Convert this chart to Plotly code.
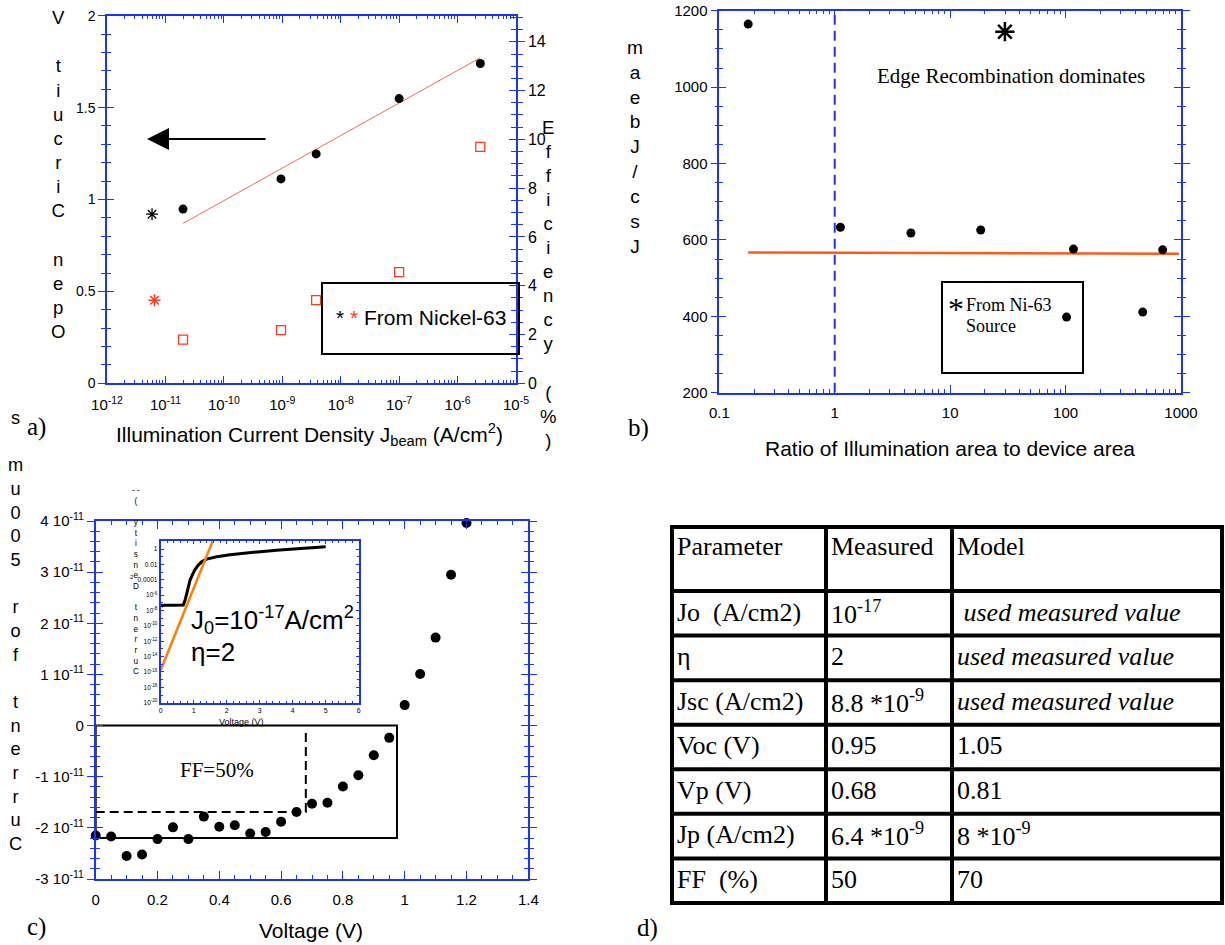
import plotly.graph_objects as go

W, H = 1225, 945
SANS = "Liberation Sans, Arial, Helvetica, sans-serif"
SERIF = "Liberation Serif, Times New Roman, serif"
BLUE = "#1a33ff"
RED = "#ff3a1a"
ORANGE = "#ff5a14"

# ---------------- Panel a data ----------------
a_jbeam = [2.0e-11, 9.5e-10, 3.8e-9, 1.0e-7, 2.45e-6]
a_voc = [0.948, 1.112, 1.248, 1.549, 1.740]
a_eff = [1.79, 2.18, 3.41, 4.56, 9.69]
a_fit_x = [2.0e-11, 2.45e-6]
a_fit_y = [0.870, 1.771]
a_ni_black_x = [5.9e-12]
a_ni_black_voc = [0.92]
a_ni_red_x = [6.5e-12]
a_ni_red_voc = [0.452]
a_xtickvals = [1e-12, 1e-11, 1e-10, 1e-9, 1e-8, 1e-7, 1e-6, 1e-5]
a_xticktext = ["10<sup>-12</sup>", "10<sup>-11</sup>", "10<sup>-10</sup>", "10<sup>-9</sup>",
               "10<sup>-8</sup>", "10<sup>-7</sup>", "10<sup>-6</sup>", "10<sup>-5</sup>"]
a_left_ticks = [0, 0.5, 1, 1.5, 2]
a_left_text = ["0", "0.5", "1", "1.5", "2"]
a_right_ticks = [0, 2, 4, 6, 8, 10, 12, 14]

# ---------------- Panel b data ----------------
b_ratio = [0.178, 1.12, 4.57, 18.4, 117, 102, 466, 694]
b_jratio = [1165, 633, 618, 626, 576, 398, 411, 574]
b_fit_x = [0.178, 960]
b_fit_y = [567, 564]
b_ni_x = [29.8]
b_ni_y = [1145]
b_divider = 1
b_xtickvals = [0.1, 1, 10, 100, 1000]
b_xticktext = ["0.1", "1", "10", "100", "1000"]

# ---------------- Panel c data ----------------
c_volt = [0.0, 0.05, 0.1, 0.15, 0.2, 0.25, 0.3, 0.35, 0.4, 0.45, 0.5, 0.55, 0.6, 0.65,
          0.7, 0.75, 0.8, 0.85, 0.9, 0.95, 1.0, 1.05, 1.1, 1.15, 1.2]
c_curr_e11 = [-2.15, -2.17, -2.55, -2.52, -2.22, -1.99, -2.22, -1.78, -1.98, -1.95, -2.11,
              -2.08, -1.88, -1.69, -1.53, -1.51, -1.19, -0.97, -0.58, -0.24, 0.40, 1.01,
              1.72, 2.95, 3.96]
c_box_voc = 0.975
c_box_isc_e11 = -2.2
c_vp = 0.68
c_ip_e11 = -1.69
c_vp_top_e11 = -0.08
c_yticks_e11 = [4, 3, 2, 1, 0, -1, -2, -3]
c_xticks = [0, 0.2, 0.4, 0.6, 0.8, 1.0, 1.2, 1.4]
c_xticktext = ["0", "0.2", "0.4", "0.6", "0.8", "1", "1.2", "1.4"]

# inset (log current density vs voltage)
ins_v = [0.0, 0.05, 0.1, 0.2, 0.3, 0.4, 0.5, 0.6, 0.685, 0.74, 0.81, 0.89, 0.97, 1.04,
         1.14, 1.24, 1.39, 1.70, 2.1, 2.6, 3.1, 3.6, 4.12, 5.0]
ins_j = [5.6e-8, 4.0e-8, 5.0e-8, 4.5e-8, 5.0e-8, 5.0e-8, 5.0e-8, 5.2e-8, 5.1e-8, 2.3e-7,
         4.6e-6, 9.1e-5, 5.5e-4, 2.2e-3, 8.3e-3, 0.022, 0.050, 0.10, 0.18, 0.33, 0.50,
         0.74, 1.1, 2.0]
ins_fit_v = [0.0, 1.62]
ins_fit_j = [1.7e-16, 33]
ins_ytickvals = [1, 1e-2, 1e-4, 1e-6, 1e-8, 1e-10, 1e-12, 1e-14, 1e-16, 1e-18, 1e-20]
ins_yticktext = ["1", "0.01", "0.0001", "10<sup>-6</sup>", "10<sup>-8</sup>", "10<sup>-10</sup>",
                 "10<sup>-12</sup>", "10<sup>-14</sup>", "10<sup>-16</sup>", "10<sup>-18</sup>",
                 "10<sup>-20</sup>"]

# ---------------- Table d ----------------
tbl_header = ["Parameter", "Measured", "Model"]
tbl_param = ["Jo\u00a0 (A/cm2)", "\u03b7", "Jsc (A/cm2)", "Voc (V)", "Vp (V)", "Jp (A/cm2)", "FF\u00a0 (%)"]
tbl_measured = ["10<sup>-17</sup>", "2", "8.8 *10<sup>-9</sup>", "0.95", "0.68",
                "6.4 *10<sup>-9</sup>", "50"]
tbl_model = ["\u00a0<i>used measured value</i>", "<i>used measured value</i>",
             "<i>used measured value</i>", "1.05", "0.81", "8 *10<sup>-9</sup>", "70"]


def px(x):
    return x / W


def py(y):
    return 1 - y / H


def base(**kw):
    d = dict(showgrid=False, zeroline=False, showline=True, linecolor=BLUE, linewidth=1.5,
             tickcolor=BLUE, tickwidth=1.3, ticklen=7, automargin=False,
             tickfont=dict(family=SANS, size=15, color="black"))
    d.update(kw)
    return d


def minor(**kw):
    d = dict(tickcolor=BLUE, tickwidth=1, ticklen=4)
    d.update(kw)
    return d


a_xminor = [k * 10.0 ** e for e in range(-12, -5) for k in range(2, 10)]
b_xminor = [k * 10.0 ** e for e in range(-1, 3) for k in range(2, 10)]

fig = go.Figure()

# ---- panel a traces ----
fig.add_trace(go.Scatter(x=a_fit_x, y=a_fit_y, mode="lines", line=dict(color="#f26a55", width=1),
                         xaxis="x", yaxis="y"))
fig.add_trace(go.Scatter(x=a_jbeam, y=a_voc, mode="markers",
                         marker=dict(color="black", size=9), xaxis="x", yaxis="y"))
fig.add_trace(go.Scatter(x=a_ni_black_x, y=a_ni_black_voc, mode="markers",
                         marker=dict(symbol="asterisk-open", size=10, color="black",
                                     line=dict(color="black", width=1.3)),
                         xaxis="x", yaxis="y"))
fig.add_trace(go.Scatter(x=a_ni_red_x, y=a_ni_red_voc, mode="markers",
                         marker=dict(symbol="asterisk-open", size=10, color=RED,
                                     line=dict(color=RED, width=1.5)),
                         xaxis="x", yaxis="y"))
fig.add_trace(go.Scatter(x=a_jbeam, y=a_eff, mode="markers",
                         marker=dict(symbol="square-open", size=9, color=RED, line=dict(color=RED, width=1.3)),
                         xaxis="x", yaxis="y3"))
for ya in ["y2", "y4"]:
    fig.add_trace(go.Scatter(x=[None], y=[None], xaxis="x", yaxis=ya, hoverinfo="skip"))

# ---- panel b traces ----
fig.add_trace(go.Scatter(x=[b_divider, b_divider], y=[200, 1200], mode="lines",
                         line=dict(color=BLUE, width=2, dash="10px,6px"), xaxis="x2", yaxis="y5"))
fig.add_trace(go.Scatter(x=b_fit_x, y=b_fit_y, mode="lines", line=dict(color=ORANGE, width=2.5),
                         xaxis="x2", yaxis="y5"))
fig.add_trace(go.Scatter(x=b_ratio, y=b_jratio, mode="markers", marker=dict(color="black", size=9),
                         xaxis="x2", yaxis="y5"))
fig.add_trace(go.Scatter(x=b_ni_x, y=b_ni_y, mode="markers",
                         marker=dict(symbol="asterisk-open", size=16, color="black",
                                     line=dict(color="black", width=2.5)),
                         xaxis="x2", yaxis="y5"))
fig.add_trace(go.Scatter(x=[None], y=[None], xaxis="x2", yaxis="y6", hoverinfo="skip"))

# ---- panel c traces ----
E = 1e-11
fig.add_trace(go.Scatter(x=[0, c_box_voc, c_box_voc, 0, 0],
                         y=[0, 0, c_box_isc_e11 * E, c_box_isc_e11 * E, 0],
                         mode="lines", line=dict(color="black", width=2), xaxis="x3", yaxis="y7"))
fig.add_trace(go.Scatter(x=[0, c_vp, c_vp], y=[c_ip_e11 * E, c_ip_e11 * E, c_vp_top_e11 * E],
                         mode="lines", line=dict(color="black", width=2, dash="9px,5px"),
                         xaxis="x3", yaxis="y7"))
fig.add_trace(go.Scatter(x=c_volt, y=[v * E for v in c_curr_e11], mode="markers", cliponaxis=False,
                         marker=dict(color="black", size=10), xaxis="x3", yaxis="y7"))
fig.add_trace(go.Scatter(x=[None], y=[None], xaxis="x3", yaxis="y8", hoverinfo="skip"))

# ---- inset ----
fig.add_trace(go.Scatter(x=ins_v, y=ins_j, mode="lines", line=dict(color="black", width=3),
                         xaxis="x4", yaxis="y9"))
fig.add_trace(go.Scatter(x=ins_fit_v, y=ins_fit_j, mode="lines", line=dict(color="#ff8000", width=2.5),
                         xaxis="x4", yaxis="y9"))

# ---------------- axes ----------------
a_dom_x = [px(107), px(516)]
a_dom_y = [py(383.3), py(15.7)]
layout_axes = dict(
    xaxis=base(domain=a_dom_x, anchor="y", type="log", range=[-12, -5], tickvals=a_xtickvals,
               ticktext=a_xticktext, ticks="inside", ticklen=8, mirror="ticks",
               ticklabelstandoff=7,
               minor=minor(tickvals=a_xminor, ticks="inside")),
    yaxis=base(domain=a_dom_y, anchor="x", range=[0, 2], tickvals=a_left_ticks, ticktext=a_left_text,
               ticks="outside", ticklen=7, tickfont=dict(family=SANS, size=14, color="black"),
               minor=minor(dtick=0.1, ticks="outside", ticklen=4)),
    yaxis2=base(overlaying="y", anchor="x", side="left", range=[0, 2], tickvals=a_left_ticks,
                showticklabels=False, showline=False, ticks="inside", ticklen=7,
                minor=minor(dtick=0.1, ticks="inside", ticklen=4)),
    yaxis3=base(overlaying="y", anchor="x", side="right", range=[0, 15.07], tickvals=a_right_ticks,
                ticks="outside", ticklen=7, tickfont=dict(family=SANS, size=16, color="black"),
                minor=minor(dtick=0.5, ticks="outside", ticklen=5)),
    yaxis4=base(overlaying="y", anchor="x", side="right", range=[0, 15.07], tickvals=a_right_ticks,
                showticklabels=False, showline=False, ticks="inside", ticklen=7,
                minor=minor(dtick=0.5, ticks="inside", ticklen=5)),

    xaxis2=base(domain=[px(719.3), px(1181)], anchor="y5", type="log", range=[-1, 3],
                tickvals=b_xtickvals, ticktext=b_xticktext, ticks="inside", ticklen=8, mirror="ticks",
                ticklabelstandoff=6, minor=minor(tickvals=b_xminor, ticks="inside")),
    yaxis5=base(domain=[py(392.7), py(10.7)], anchor="x2", range=[200, 1200], dtick=200,
                ticks="outside", ticklen=7, mirror="ticks",
                minor=minor(dtick=50, ticks="outside", ticklen=3)),
    yaxis6=base(overlaying="y5", anchor="x2", side="left", range=[200, 1200], dtick=200,
                showticklabels=False, showline=False, ticks="inside", ticklen=7, mirror="ticks",
                minor=minor(dtick=50, ticks="inside", ticklen=4)),

    xaxis3=base(domain=[px(95.7), px(528.3)], anchor="y7", range=[0, 1.4], tickvals=c_xticks,
                ticktext=c_xticktext, ticks="inside", ticklen=8, mirror="ticks",
                ticklabelstandoff=6, minor=minor(dtick=0.05, ticks="inside", ticklen=4)),
    yaxis7=base(domain=[py(879), py(521)], anchor="x3", range=[-3 * E, 4 * E],
                tickvals=[t * E for t in c_yticks_e11],
                ticktext=[("0" if t == 0 else "%d 10<sup>-11</sup>" % t) for t in c_yticks_e11],
                ticks="outside", ticklen=7, mirror="ticks",
                minor=minor(dtick=0.2 * E, tick0=0, ticks="outside", ticklen=4)),
    yaxis8=base(overlaying="y7", anchor="x3", side="left", range=[-3 * E, 4 * E],
                tickvals=[t * E for t in c_yticks_e11], showticklabels=False, showline=False,
                ticks="inside", ticklen=7, mirror="ticks",
                minor=minor(dtick=0.2 * E, tick0=0, ticks="inside", ticklen=4)),

    xaxis4=base(domain=[px(160.7), px(358.7)], anchor="y9", range=[0, 6], dtick=1,
                ticks="inside", ticklen=3, mirror="ticks", linewidth=2,
                tickfont=dict(family=SANS, size=7, color="black"),
                minor=minor(dtick=0.2, ticks="inside", ticklen=2)),
    yaxis9=base(domain=[py(702.7), py(540.7)], anchor="x4", type="log", range=[-20, 1.09],
                tickvals=ins_ytickvals, ticktext=ins_yticktext, ticks="inside", ticklen=3,
                mirror="ticks", linewidth=2, tickfont=dict(family=SANS, size=6.5, color="black"),
                minor=minor(dtick=1, ticks="inside", ticklen=2)),
)


def stack(chars, x, yc, size):
    txt = "<br>".join(c if c.strip() else "\u00a0" for c in chars)
    return dict(text=txt, x=px(x), y=py(yc), xref="paper", yref="paper", showarrow=False,
                xanchor="center", yanchor="middle", align="center",
                font=dict(family=SANS, size=size, color="black"))


def label(text, x, y, size, family=SANS, xanchor="center", color="black"):
    return dict(text=text, x=px(x), y=py(y), xref="paper", yref="paper", showarrow=False,
                xanchor=xanchor, yanchor="middle", font=dict(family=family, size=size, color=color))


inset_title_chars = ["- -", "(", " "] + list("Current Density")[::-1]

annotations = [
    # panel a
    stack(list("Open Circuit V")[::-1], 58, 175, 18.6),
    stack(list("Efficiency (%)"), 548, 283.5, 18.5),
    label("Illumination Current Density J<sub>beam</sub> (A/cm<sup>2</sup>)", 309, 435, 21),
    label("* <span style='color:%s'>*</span> From Nickel-63" % RED, 334, 317, 21, xanchor="left"),
    dict(text="", x=px(147), y=py(139), xref="paper", yref="paper", showarrow=True,
         ax=120, ay=0, axref="pixel", ayref="pixel", arrowhead=2, arrowsize=2.2, arrowwidth=2,
         arrowcolor="black"),
    label("a)", 36, 427, 25, family=SERIF),
    # panel b
    stack(list("Jsc/Jbeam")[::-1], 635, 146.5, 19.1),
    label("Edge Recombination dominates", 1011, 76, 21, family=SERIF),
    label("Ratio of Illumination area to device area", 950, 448, 21),
    label("*", 956, 309, 32, family=SERIF),
    label("From Ni-63", 964, 305, 18, family=SERIF, xanchor="left"),
    label("Source", 964, 326, 18, family=SERIF, xanchor="left"),
    label("b)", 638, 428, 25, family=SERIF),
    # panel c
    stack(list("Current for 500um s")[::-1], 15, 630.5, 18.2),
    label("Voltage (V)", 311, 930, 21),
    label("FF=50%", 217, 770, 21, family=SERIF),
    label("c)", 36, 927, 25, family=SERIF),
    # inset
    stack(inset_title_chars, 136, 581, 8.2),
    label("2", 131.5, 577, 6),
    label("Voltage (V)", 241, 722, 9),
    label("J<sub>0</sub>=10<sup>-17</sup>A/cm<sup>2</sup>", 189, 620, 26, xanchor="left"),
    label("\u03b7=2", 189, 652, 26, xanchor="left"),
    # panel d
    label("d)", 647, 928, 25, family=SERIF),
]

shapes = [
    dict(type="rect", xref="paper", yref="paper", x0=px(322), x1=px(519), y0=py(354), y1=py(283),
         line=dict(color="black", width=2)),
    dict(type="rect", xref="paper", yref="paper", x0=px(942), x1=px(1083), y0=py(373), y1=py(282),
         line=dict(color="black", width=2)),
    # the FF label is cut off at its lower edge in the original
    dict(type="rect", xref="paper", yref="paper", x0=px(172), x1=px(262), y0=py(786), y1=py(774.5),
         line=dict(width=0), fillcolor="white", layer="above"),
]

# ---------------- table (d) drawn as grid + cell texts ----------------
t_col_x = [672, 826, 952, 1222]
t_top, t_head_bottom, t_bottom = 527, 591, 903
n_rows = len(tbl_param)
row_h = (t_bottom - t_head_bottom) / n_rows
t_row_y = [t_top, t_head_bottom] + [t_head_bottom + row_h * (i + 1) for i in range(n_rows)]
for yy in t_row_y:
    shapes.append(dict(type="line", xref="paper", yref="paper", x0=px(t_col_x[0] - 2), x1=px(t_col_x[-1] + 2),
                       y0=py(yy), y1=py(yy), line=dict(color="black", width=4)))
for xx in t_col_x:
    shapes.append(dict(type="line", xref="paper", yref="paper", x0=px(xx), x1=px(xx),
                       y0=py(t_top), y1=py(t_bottom), line=dict(color="black", width=4)))

for ci, head in enumerate(tbl_header):
    annotations.append(label(head, t_col_x[ci] + 3, t_top + 19, 26, family=SERIF, xanchor="left"))
for ri, row in enumerate(zip(tbl_param, tbl_measured, tbl_model)):
    yc = t_row_y[ri + 1] + 21
    for ci, val in enumerate(row):
        annotations.append(label(val, t_col_x[ci] + 3, yc, 26, family=SERIF, xanchor="left"))

fig.update_layout(
    width=W, height=H, margin=dict(l=0, r=0, t=0, b=0, autoexpand=False), autosize=False,
    paper_bgcolor="white", plot_bgcolor="white", showlegend=False,
    annotations=annotations, shapes=shapes, **layout_axes,
)

fig.write_html("out.html", config={"displayModeBar": False},
               post_script="document.body.style.margin='0';")
